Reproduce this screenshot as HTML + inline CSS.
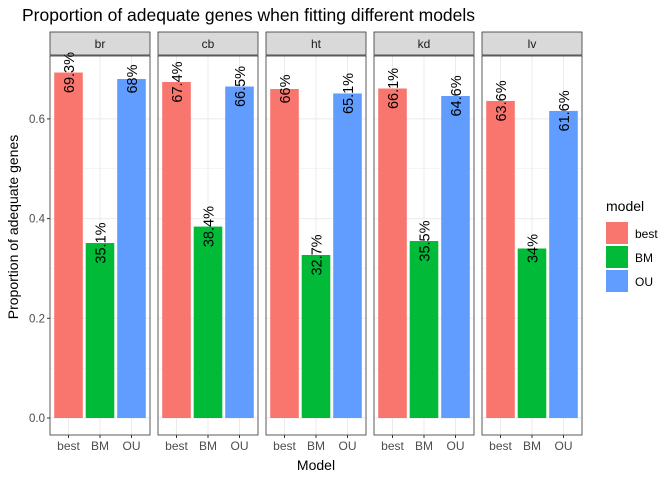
<!DOCTYPE html>
<html><head><meta charset="utf-8"><style>
body{margin:0;background:#fff;}
svg{font-family:"Liberation Sans",sans-serif;}
</style></head><body>
<svg id="chart" width="672" height="480" viewBox="0 0 672 480" xmlns="http://www.w3.org/2000/svg">
<text x="22" y="21" font-size="17.5" fill="#000">Proportion of adequate genes when fitting different models</text>
<text transform="translate(18,227) rotate(-90)" text-anchor="middle" font-size="14">Proportion of adequate genes</text>
<text x="316" y="470" text-anchor="middle" font-size="14">Model</text>
<g id="panels"></g>
<g id="yaxis"></g>
<g>
<text x="606" y="211" font-size="14">model</text>
<rect x="606" y="222" width="22" height="22" fill="#F8766D"/>
<text x="635" y="238" font-size="12">best</text>
<rect x="606" y="246" width="22" height="22" fill="#00BA38"/>
<text x="635" y="262" font-size="12">BM</text>
<rect x="606" y="270" width="22" height="22" fill="#619CFF"/>
<text x="635" y="286" font-size="12">OU</text>
</g>
</svg>
<script>
const tissues = ["br","cb","ht","kd","lv"];
const models = ["best","BM","OU"];
const bestVals = [0.693,0.674,0.66,0.661,0.636];
const bmVals = [0.351,0.384,0.327,0.355,0.34];
const ouVals = [0.68,0.665,0.651,0.646,0.616];
const yTicks = [0,0.2,0.4,0.6];
const yTickLabels = ["0.0","0.2","0.4","0.6"];

const colors = ["#F8766D","#00BA38","#619CFF"];
const NS = "http://www.w3.org/2000/svg";
const y0 = 418, yScale = 498.5;
function yPos(v){return y0 - v*yScale;}
const panelTop = 56, panelBot = 435, panelW = 100, panelStep = 108, panelLeft0 = 50;
function panelX(i){return panelLeft0 + i*panelStep;}
function barCenter(i,j){return panelX(i) + 18.5 + j*31.5;}
function mk(tag, attrs, parent){const e=document.createElementNS(NS,tag);for(const k in attrs)e.setAttribute(k,attrs[k]);parent.appendChild(e);return e;}
const panels = document.getElementById("panels");
const series = [bestVals,bmVals,ouVals];
tissues.forEach((t,i)=>{
  const px = panelX(i);
  const g = mk("g",{},panels);
  
  
  const strip = mk("rect",{x:px,y:32,width:panelW,height:23,fill:"#D9D9D9",stroke:"#333","stroke-width":0.8},g);
  
  
  const st = mk("text",{x:px+panelW/2,y:48,"text-anchor":"middle","font-size":12,fill:"#1a1a1a"},g);
  st.textContent = t;
  
  
  const bg = mk("rect",{x:px,y:panelTop,width:panelW,height:panelBot-panelTop,fill:"#fff"},g);
  
  
  for(let k=0;k<7;k++){
    const v=k*0.1;
    const gl = mk("line",{x1:px,x2:px+panelW,y1:yPos(v),y2:yPos(v),stroke:"#EBEBEB","stroke-width":k%2==0?1:0.5},g);
    
    
  }
  models.forEach((m,j)=>{
    const gl = mk("line",{x1:barCenter(i,j),x2:barCenter(i,j),y1:panelTop,y2:panelBot,stroke:"#EBEBEB","stroke-width":1},g);
    
    
  });
  models.forEach((m,j)=>{
    const v = series[j][i];
    const cx = barCenter(i,j);
    const b = mk("rect",{x:cx-14.3,y:yPos(v),width:28.6,height:y0-yPos(v),fill:colors[j]},g);
    
    
    const lbl = (Math.round(v*1000)/10)+"%";
    const tx = mk("text",{transform:`translate(${cx+5.5},${yPos(v)}) rotate(-90)`,"text-anchor":"middle","font-size":14.5,fill:"#000"},g);
    tx.textContent = lbl;
    
    
    const tk = mk("line",{x1:cx,x2:cx,y1:panelBot,y2:panelBot+3,stroke:"#333"},g);
    
    
    const xl = mk("text",{x:cx,y:panelBot+15,"text-anchor":"middle","font-size":12,fill:"#4d4d4d"},g);
    xl.textContent = m;
    
    
  });
  const border = mk("rect",{x:px,y:panelTop,width:panelW,height:panelBot-panelTop,fill:"none",stroke:"#333","stroke-width":0.8},g);
  
  
});
const ya = document.getElementById("yaxis");
yTicks.forEach((v,k)=>{
  const tk = mk("line",{x1:panelLeft0-3,x2:panelLeft0,y1:yPos(v),y2:yPos(v),stroke:"#333"},ya);
  
  
  const tl = mk("text",{x:panelLeft0-5,y:yPos(v)+4,"text-anchor":"end","font-size":11.5,fill:"#4d4d4d"},ya);
  tl.textContent = yTickLabels[k];
  
  
});
</script>
</body></html>
